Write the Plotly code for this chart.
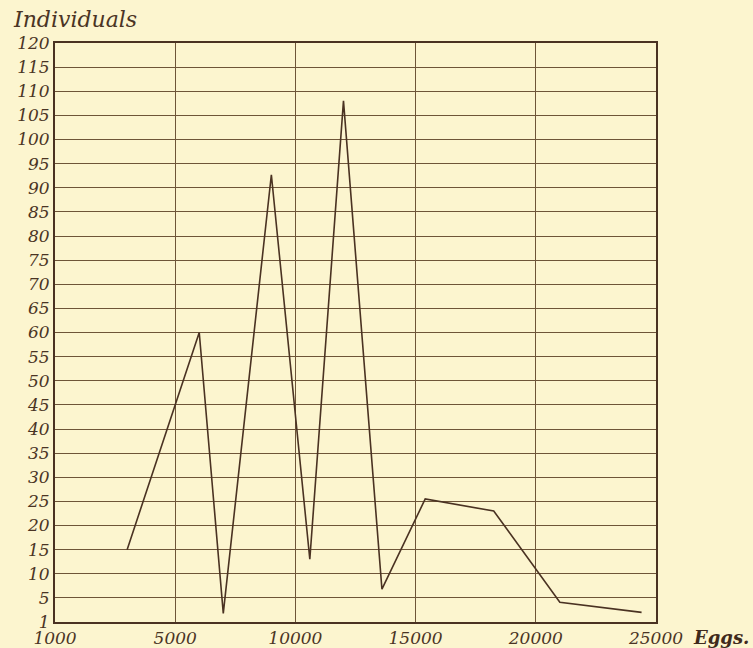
import plotly.graph_objects as go

# Data (axis origin is labelled "1000" / "1")
eggs = [3000, 6000, 7000, 9000, 10600, 12000, 13600, 15400, 18250, 21000, 24400]
individuals = [15, 60, 1.8, 92.7, 13, 108, 6.8, 25.5, 23, 4.1, 2]

x_tickvals = [0, 5000, 10000, 15000, 20000, 25000]
x_ticktext = ["1000", "5000", "10000", "15000", "20000", "25000"]
y_tickvals = list(range(0, 121, 5))
y_ticktext = ["1"] + [str(v) for v in range(5, 121, 5)]

bg = "#fcf5cf"
ink = "#4a3222"
grid = "#6e5538"
font_family = "DejaVu Serif"
tick_font = dict(size=17, family=font_family, color="#4a3424", style="italic")

fig = go.Figure()
fig.add_trace(go.Scatter(
    x=eggs, y=individuals, mode="lines",
    line=dict(color=ink, width=1.6),
    hoverinfo="skip", showlegend=False,
))

fig.update_layout(
    width=753, height=648,
    margin=dict(l=54.5, r=96.5, t=43, b=26.3, pad=0),
    paper_bgcolor=bg, plot_bgcolor=bg,
    font=dict(family=font_family, size=17, color="#4a3424", style="italic"),
    xaxis=dict(
        range=[0, 25000], tickvals=x_tickvals, ticktext=x_ticktext,
        showgrid=True, gridcolor=grid, gridwidth=1.1,
        showline=True, linecolor=ink, linewidth=2, mirror=True,
        ticks="", zeroline=False, fixedrange=True, automargin=False,
        tickfont=tick_font, ticklabelstandoff=0,
    ),
    yaxis=dict(
        range=[0, 120], tickvals=y_tickvals, ticktext=y_ticktext,
        showgrid=True, gridcolor=grid, gridwidth=1.1,
        showline=True, linecolor=ink, linewidth=2, mirror=True,
        ticks="", zeroline=False, fixedrange=True, automargin=False,
        tickfont=tick_font,
    ),
    annotations=[
        dict(text="Individuals", xref="paper", yref="paper",
             x=-0.074, y=1.04, xanchor="left", yanchor="middle",
             showarrow=False, font=dict(size=22, family=font_family, style="italic", color="#4a3424")),
        dict(text="<b>Eggs.</b>", xref="paper", yref="paper",
             x=1.108, y=-0.026, xanchor="center", yanchor="middle",
             showarrow=False, font=dict(size=18, family=font_family, style="italic", color="#3f2a1c")),
    ],
)

fig.write_html(
    "out.html",
    config={"displayModeBar": False},
    post_script="document.body.style.margin='0';document.body.style.padding='0';"
                "document.body.style.background='" + bg + "';",
)
